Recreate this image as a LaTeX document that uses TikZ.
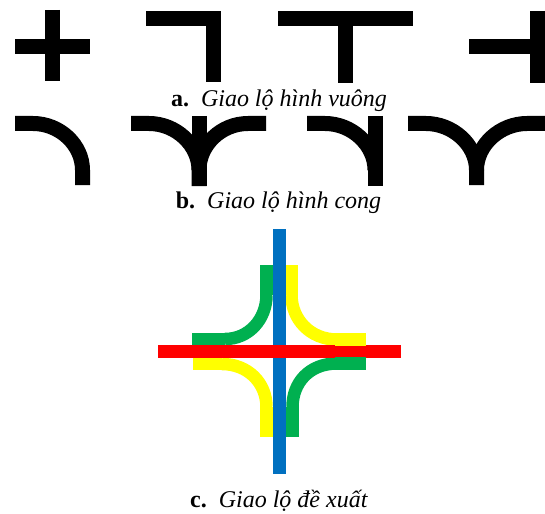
\documentclass[tikz,border=0pt]{standalone}
\usepackage{xcolor}
\usepackage{fontspec}
\setmainfont{Liberation Serif}
\definecolor{roadgreen}{HTML}{00B050}
\definecolor{roadblue}{HTML}{0070C0}
\definecolor{roadyellow}{HTML}{FFFF00}
\definecolor{roadred}{HTML}{FF0000}
\tikzset{
  roadblack/.style={line width=15pt,black},
  roadcurve/.style={line width=12.5pt},
  caption/.style={anchor=base,font=\fontsize{24}{28}\selectfont,inner sep=0pt}
}
\begin{document}
\begin{tikzpicture}[x=1pt,y=-1pt]
	\useasboundingbox (0,0) rectangle (545,513);
	% Giao lo hinh vuong
	\draw[roadblack] (52.5,10) -- (52.5,81.5);
	\draw[roadblack] (15,46.5) -- (90,46.5);
	\draw[roadblack] (146,18.5) -- (213.5,18.5) -- (213.5,82);
	\draw[roadblack] (278,18.5) -- (413,18.5);
	\draw[roadblack] (345.5,18.5) -- (345.5,83);
	\draw[roadblack] (537.5,11) -- (537.5,83);
	\draw[roadblack] (469,47) -- (537.5,47);
	\node[caption] (captionA) at (279,107) {\textbf{a.}\ \ \textit{Giao lộ hình vuông}};
	% Giao lo hinh cong
	\draw[roadblack] (15,123.5) -- (33,123.5) .. controls (60,123.5) and (82.5,145) .. (82.5,170) -- (82.5,185);
	\draw[roadblack] (131,123.5) -- (149,123.5) .. controls (176,123.5) and (199,145) .. (199,170) -- (199,186);
	\draw[roadblack] (266,123.5) -- (248,123.5) .. controls (221,123.5) and (199,145) .. (199,170);
	\draw[roadblack] (199,116) -- (199,186);
	\draw[roadblack] (307,123.5) -- (325,123.5) .. controls (352,123.5) and (375,145) .. (375,170);
	\draw[roadblack] (375,116) -- (375,186);
	\draw[roadblack] (408,123.5) -- (426,123.5) .. controls (453,123.5) and (476.5,145) .. (476.5,170) -- (476.5,185);
	\draw[roadblack] (545,123.5) -- (527,123.5) .. controls (500,123.5) and (476.5,145) .. (476.5,170);
	\node[caption] (captionB) at (278.5,208) {\textbf{b.}\ \ \textit{Giao lộ hình cong}};
	% Giao lo de xuat
	\fill[roadgreen] (260,265) rectangle (273,295);
	\fill[roadgreen] (192,333) rectangle (225,345);
	\draw[roadcurve,roadgreen] (266.5,295) .. controls (266.5,319) and (249,339) .. (225,339);
	\fill[roadyellow] (285,265) rectangle (298,295);
	\draw[roadcurve,roadyellow] (291.5,295) .. controls (291.5,319) and (310,339.5) .. (337,339.5);
	\fill[roadyellow] (193,358) rectangle (222,369.5);
	\draw[roadcurve,roadyellow] (222,364) .. controls (248,364) and (266.5,383) .. (266.5,407);
	\fill[roadyellow] (260,407) rectangle (273,437);
	\draw[roadcurve,roadgreen] (337,363.5) .. controls (309,363.5) and (292.5,383) .. (292.5,407);
	\fill[roadgreen] (286,407) rectangle (299,437);
	% Duong thang
	\fill[roadblue] (273,229) rectangle (286,474);
	\fill[roadred] (158,345) rectangle (401,358);
	\fill[roadyellow] (335,333) rectangle (366,345.7);
	\fill[roadgreen] (335,357) rectangle (366,370);
	\node[caption] (captionC) at (279,507.5) {\textbf{c.}\ \ \textit{Giao lộ đề xuất}};
\end{tikzpicture}
\end{document}
